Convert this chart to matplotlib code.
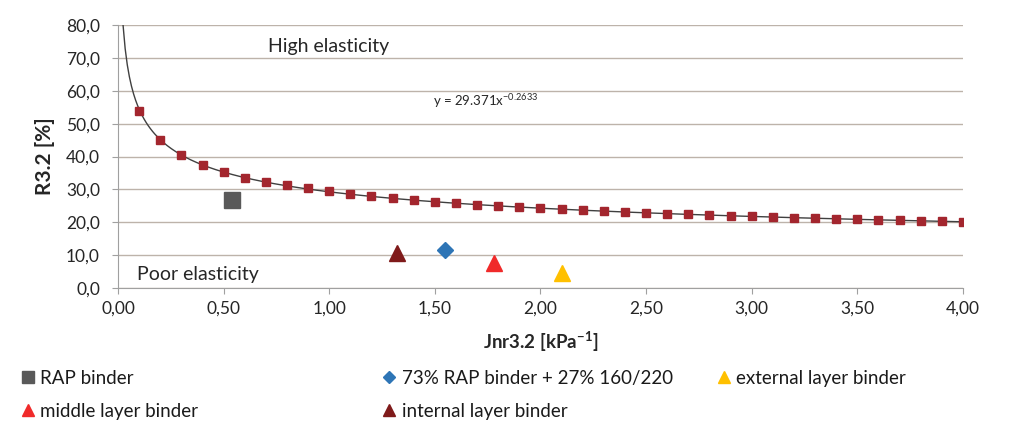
import numpy as np
import matplotlib.pyplot as plt
from matplotlib.lines import Line2D
from matplotlib.ticker import FuncFormatter, MultipleLocator

plt.rcParams['font.family'] = ['Lato', 'DejaVu Sans']

# reference curve points (Jnr3.2, R3.2)
jnr_ref = [0.1, 0.2, 0.3, 0.4, 0.5, 0.6, 0.7, 0.8, 0.9, 1.0,
           1.1, 1.2, 1.3, 1.4, 1.5, 1.6, 1.7, 1.8, 1.9, 2.0,
           2.1, 2.2, 2.3, 2.4, 2.5, 2.6, 2.7, 2.8, 2.9, 3.0,
           3.1, 3.2, 3.3, 3.4, 3.5, 3.6, 3.7, 3.8, 3.9, 4.0]
r_ref = [54.0, 45.0, 40.5, 37.5, 35.3, 33.5, 32.3, 31.2, 30.3, 29.5,
         28.6, 28.0, 27.4, 26.8, 26.3, 25.8, 25.3, 25.0, 24.6, 24.2,
         23.9, 23.6, 23.3, 23.0, 22.8, 22.6, 22.4, 22.2, 22.0, 21.8,
         21.6, 21.4, 21.2, 21.0, 20.9, 20.7, 20.6, 20.4, 20.3, 20.1]

# binders
binder_names = ['RAP binder', '73% RAP binder + 27% 160/220', 'external layer binder',
                'middle layer binder', 'internal layer binder']
binder_jnr = [0.54, 1.55, 2.10, 1.78, 1.32]
binder_r = [26.8, 11.5, 4.5, 7.5, 10.5]
binder_marker = ['s', 'D', '^', '^', '^']
binder_color = ['#595959', '#2e75b6', '#ffc000', '#f02a2a', '#7f1a1a']
binder_size = [11, 8, 11, 11, 11]

# power-law trendline fitted to the reference points
b, log_a = np.polyfit(np.log(jnr_ref), np.log(r_ref), 1)
a = np.exp(log_a)
x_start = (80.0 / a) ** (1.0 / b)
xs = np.linspace(x_start, 4.0, 400)

fig = plt.figure(figsize=(10.2, 4.26), dpi=100)
ax = fig.add_axes([0.1157, 0.324, 0.8283, 0.617])

ax.plot(xs, a * xs ** b, color='#404040', lw=1.0, zorder=3)
ax.plot(jnr_ref, r_ref, 's', color='#a3262e', ms=5.8, zorder=4)

handles = []
for n, x, y, m, c, s in zip(binder_names, binder_jnr, binder_r, binder_marker, binder_color, binder_size):
    ax.plot(x, y, m, color=c, ms=s, zorder=5)
    handles.append(Line2D([], [], ls='', marker=m, color=c, ms=8 if m != 'D' else 6, label=n))

ax.set_xlim(0, 4.0)
ax.set_ylim(0, 80)
ax.xaxis.set_major_locator(MultipleLocator(0.5))
ax.yaxis.set_major_locator(MultipleLocator(10))
ax.xaxis.set_major_formatter(FuncFormatter(lambda v, p: f'{v:.2f}'.replace('.', ',')))
ax.yaxis.set_major_formatter(FuncFormatter(lambda v, p: f'{v:.1f}'.replace('.', ',')))
ax.yaxis.grid(True, color='#bdb3aa', lw=1.0)
ax.set_axisbelow(True)
for side in ['top', 'right']:
    ax.spines[side].set_visible(False)
for side in ['left', 'bottom']:
    ax.spines[side].set_color('#a0a0a0')
ax.tick_params(axis='x', length=4, colors='#a0a0a0', labelcolor='#262626', labelsize=12.5, pad=5)
ax.tick_params(axis='y', length=4, colors='#a0a0a0', labelcolor='#262626', labelsize=12.5, pad=9)

ax.set_ylabel('R3.2 [%]', fontsize=15, fontweight='bold', color='#262626', va='center')
ax.yaxis.set_label_coords(-0.0864, 0.5)
ax.set_xlabel('Jnr3.2 [kPa$\\mathregular{^{-1}}$]', fontsize=13.5, fontweight='bold',
              color='#262626', va='center')
ax.xaxis.set_label_coords(0.5, -0.205)

ax.text(0.71, 73.5, 'High elasticity', fontsize=14, color='#262626', va='center')
ax.text(0.09, 4.0, 'Poor elasticity', fontsize=14, color='#262626', va='center')
ax.text(1.49, 57.0, 'y = 29.371x$\\mathregular{^{-0.2633}}$', fontsize=9.5, color='#262626',
        va='center')

cols = [([handles[0], handles[3]], 0.0216), ([handles[1], handles[4]], 0.376), ([handles[2]], 0.704)]
for hs, x0 in cols:
    fig.legend(handles=hs, loc='upper left', bbox_to_anchor=(x0, 0.132), frameon=False,
               fontsize=13.5, handlelength=0.6, handletextpad=0.37, labelspacing=0.85,
               borderaxespad=0, borderpad=0, labelcolor='#1a1a1a')

fig.savefig('out.png', dpi=100, facecolor='white')
